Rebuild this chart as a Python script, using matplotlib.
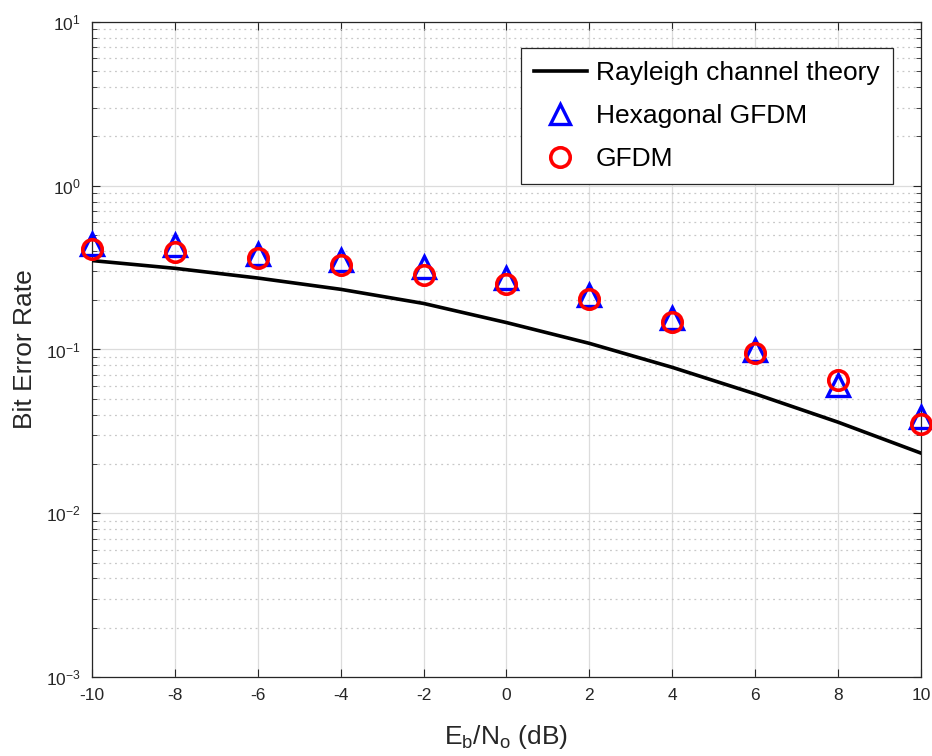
import matplotlib
matplotlib.use("Agg")
import matplotlib.pyplot as plt
from matplotlib.ticker import LogLocator, NullFormatter

plt.rcParams['font.family'] = ['Liberation Sans', 'DejaVu Sans']
plt.rcParams['mathtext.fontset'] = 'custom'
plt.rcParams['mathtext.rm'] = 'Liberation Sans'
plt.rcParams['mathtext.it'] = 'Liberation Sans'

snr_db = [-10, -8, -6, -4, -2, 0, 2, 4, 6, 8, 10]
ber_theory = [0.349, 0.313, 0.273, 0.233, 0.191, 0.146, 0.109, 0.0778, 0.0536, 0.0360, 0.0233]
ber_hex = [0.441, 0.435, 0.385, 0.353, 0.321, 0.273, 0.216, 0.155, 0.0993, 0.0607, 0.0389]
ber_gfdm = [0.411, 0.392, 0.364, 0.328, 0.283, 0.251, 0.203, 0.148, 0.0957, 0.0652, 0.0349]

fig = plt.figure(figsize=(9.32, 7.56), dpi=100)
ax = fig.add_axes([0.0987, 0.1045, 0.8893, 0.8665])

ax.semilogy(snr_db, ber_theory, color='black', lw=2.6, label='Rayleigh channel theory', zorder=3)
ax.semilogy(snr_db, ber_hex, linestyle='none', marker='^', markersize=16.5, markerfacecolor='none',
            markeredgecolor='blue', markeredgewidth=2.4, label='Hexagonal GFDM', zorder=4,
            clip_on=False)
ax.semilogy(snr_db, ber_gfdm, linestyle='none', marker='o', markersize=14, markerfacecolor='none',
            markeredgecolor='red', markeredgewidth=2.6, label='GFDM', zorder=5, clip_on=False)

ax.set_xlim(-10, 10)
ax.set_ylim(1e-3, 1e1)
ax.set_xticks(snr_db)
ax.set_xticklabels([str(v) for v in snr_db])
ax.yaxis.set_major_locator(LogLocator(base=10, numticks=10))
ax.yaxis.set_minor_locator(LogLocator(base=10, subs=range(2, 10), numticks=100))
ax.yaxis.set_minor_formatter(NullFormatter())

ax.grid(True, which='major', color='#dcdcdc', lw=0.9, ls='-')
ax.grid(True, which='minor', axis='y', color='#c8c8c8', lw=0.9, ls=(0, (1.5, 3)))
ax.set_axisbelow(True)

axc = '#262626'
for s in ax.spines.values():
    s.set_color(axc)
    s.set_linewidth(0.9)
ax.tick_params(which='both', direction='in', top=True, right=True, colors=axc,
               labelsize=12.5, labelcolor='#262626')
ax.tick_params(which='major', length=6, pad=8)
ax.tick_params(which='minor', length=3.5)

ax.set_xlabel('E$_{\\mathrm{b}}$/N$_{\\mathrm{o}}$ (dB)', fontsize=19, color='#262626')
ax.xaxis.set_label_coords(0.5, -0.07)
ax.set_ylabel('Bit Error Rate', fontsize=19, color='#262626')
ax.yaxis.set_label_coords(-0.0668, 0.5)

leg = ax.legend(loc='upper right', bbox_to_anchor=(0.9662, 0.9603), fontsize=19, frameon=True,
                fancybox=False, edgecolor=axc, framealpha=1, borderpad=0.5,
                labelspacing=0.72, handlelength=2.0, handletextpad=0.35, borderaxespad=0)
leg.get_frame().set_linewidth(0.9)
for h in leg.legend_handles[1:]:
    h.set_markersize(14)

fig.savefig('out.png', dpi=100)
